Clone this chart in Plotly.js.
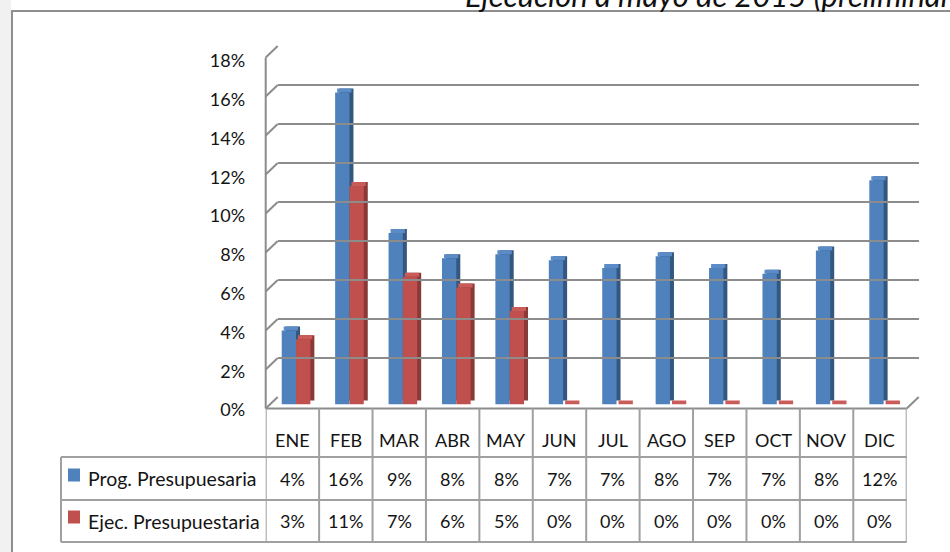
<!DOCTYPE html>
<html>
<head>
<meta charset="utf-8">
<script src="https://cdn.plot.ly/plotly-3.0.1.min.js"></script>
<style>html,body{margin:0;padding:0;background:#fff;}#chart{width:950px;height:552px;}</style>
</head>
<body>
<div id="chart"></div>
<script>
// ---------- data ----------
const meses = ['ENE','FEB','MAR','ABR','MAY','JUN','JUL','AGO','SEP','OCT','NOV','DIC'];
const progValues = [3.8, 16.0, 8.8, 7.5, 7.7, 7.4, 7.0, 7.6, 7.0, 6.7, 7.9, 11.5];
const ejecValues = [3.35, 11.2, 6.55, 6.0, 4.8, 0, 0, 0, 0, 0, 0, 0];
const seriesNames = ['Prog. Presupuesaria', 'Ejec. Presupuestaria'];
const yTicks = [0, 2, 4, 6, 8, 10, 12, 14, 16, 18];
const yTickLabels = ['0%', '2%', '4%', '6%', '8%', '10%', '12%', '14%', '16%', '18%'];
const titleText = 'Ejecución a mayo de 2015 (preliminar)';

// ---------- styling / geometry helpers ----------
const W = 950, H = 552;
const px = x => x / W;
const py = y => 1 - y / H;
const FONT = 'Lato, "Open Sans", sans-serif';
const TXT = '#141414';
const colors = {
  blue: {front: '#4f81bd', top: '#5b8cc8', side: '#34577f'},
  red:  {front: '#c0504d', top: '#c95c59', side: '#8a3937'}
};
const colL = 265.7, colR = 906.7;           // front plane x extent
const unit = (colR - colL) / meses.length;   // px per category
const depthX = 12;                           // 3D depth offset (px)
const pxPerPct = 19.5;
const barBase = 404.5, frontBase = 408.5, backBase = 397;
const sideDx = 4 / unit, topDy = 4 / pxPerPct;
const barW = 0.268;
const offBlue = -0.2, offRed = 0.068;

function barSet(vals, c, off, name) {
  return [
    {type: 'bar', x: meses, y: vals, base: vals.map(() => topDy), offset: off + sideDx, width: barW,
     marker: {color: c.side}, hoverinfo: 'skip', showlegend: false},
    {type: 'bar', x: meses, y: vals.map(() => topDy), base: vals, offset: off + sideDx / 2, width: barW,
     marker: {color: c.top}, hoverinfo: 'skip', showlegend: false},
    {type: 'bar', x: meses, y: vals, offset: off, width: barW, name: name,
     marker: {color: c.front}, showlegend: false}
  ];
}

const traces = [
  ...barSet(progValues, colors.blue, offBlue, seriesNames[0]),
  ...barSet(ejecValues, colors.red, offRed, seriesNames[1]),
  {type: 'scatter', x: [meses[0]], y: [0], xaxis: 'x2', yaxis: 'y2', mode: 'markers',
   marker: {opacity: 0}, hoverinfo: 'skip', showlegend: false},
  {type: 'scatter', x: [meses[0]], y: [0], xaxis: 'x', yaxis: 'y3', mode: 'markers',
   marker: {opacity: 0}, hoverinfo: 'skip', showlegend: false}
];

// ---------- shapes ----------
const LINE = '#8c8c8c';
const TLINE = '#a0a0a0';
const shapes = [];
// left spreadsheet strip
shapes.push({type: 'rect', xref: 'paper', yref: 'paper', x0: 0, x1: px(11), y0: 0, y1: 1,
  fillcolor: '#f1f1f1', line: {width: 0}, layer: 'below'});
// outer frame
shapes.push({type: 'rect', xref: 'paper', yref: 'paper', x0: px(12), x1: px(962), y0: py(565), y1: py(11),
  fillcolor: 'rgba(0,0,0,0)', line: {color: '#8f8f8f', width: 2}});
// left wall front edge
shapes.push({type: 'line', xref: 'paper', yref: 'paper', x0: px(colL), x1: px(colL),
  y0: py(frontBase), y1: py(frontBase - yTicks[yTicks.length - 1] * pxPerPct), line: {color: LINE, width: 2}, layer: 'below'});
// left wall diagonals
yTicks.forEach(t => {
  shapes.push({type: 'line', xref: 'paper', yref: 'paper',
    x0: px(colL), y0: py(frontBase - t * pxPerPct), x1: px(colL + depthX), y1: py(backBase - t * pxPerPct),
    line: {color: LINE, width: 2}, layer: 'below'});
});
// floor front edge and right diagonal
shapes.push({type: 'line', xref: 'paper', yref: 'paper', x0: px(colL), x1: px(colR), y0: py(frontBase), y1: py(frontBase),
  line: {color: LINE, width: 2}, layer: 'below'});
shapes.push({type: 'line', xref: 'paper', yref: 'paper', x0: px(colR), x1: px(colR + depthX), y0: py(frontBase), y1: py(backBase),
  line: {color: LINE, width: 2}, layer: 'below'});
// data table lines
const tTop = 457, tMid = 500, tBot = 542, tLeft = 61;
[tTop, tMid, tBot].forEach(y => shapes.push({type: 'line', xref: 'paper', yref: 'paper',
  x0: px(tLeft), x1: px(colR), y0: py(y), y1: py(y), line: {color: TLINE, width: 2}}));
shapes.push({type: 'line', xref: 'paper', yref: 'paper', x0: px(tLeft), x1: px(tLeft), y0: py(tTop), y1: py(tBot),
  line: {color: TLINE, width: 2}});
for (let i = 0; i <= meses.length; i++) {
  shapes.push({type: 'line', xref: 'x', yref: 'paper', x0: i - 0.5, x1: i - 0.5, y0: py(frontBase), y1: py(tBot),
    line: {color: TLINE, width: 2}});
}
// legend keys
[[colors.blue.front, 475], [colors.red.front, 517]].forEach(([c, y]) => shapes.push({type: 'rect', xref: 'paper', yref: 'paper',
  x0: px(68), x1: px(80), y0: py(y + 6.5), y1: py(y - 6.5), fillcolor: c, line: {width: 0}}));

// ---------- annotations ----------
const annotations = [];
const tf = {family: FONT, size: 18, color: TXT};
const lf = {family: FONT, size: 19.5, color: TXT};
meses.forEach((m, i) => {
  annotations.push({xref: 'x', yref: 'paper', x: m, y: py(440), text: m, showarrow: false, font: tf, xanchor: 'center', yanchor: 'middle'});
  annotations.push({xref: 'x', yref: 'paper', x: m, y: py(478.5), text: Math.round(progValues[i]) + '%', showarrow: false, font: tf, xanchor: 'center', yanchor: 'middle'});
  annotations.push({xref: 'x', yref: 'paper', x: m, y: py(521), text: Math.round(ejecValues[i]) + '%', showarrow: false, font: tf, xanchor: 'center', yanchor: 'middle'});
});
annotations.push({xref: 'paper', yref: 'paper', x: px(86), y: py(478.5), text: seriesNames[0], showarrow: false, font: lf, xanchor: 'left', yanchor: 'middle'});
annotations.push({xref: 'paper', yref: 'paper', x: px(86), y: py(521), text: seriesNames[1], showarrow: false, font: lf, xanchor: 'left', yanchor: 'middle'});
annotations.push({xref: 'paper', yref: 'paper', x: px(463), y: py(16), text: titleText, showarrow: false,
  font: {family: FONT, size: 31, color: '#111', style: 'italic'}, xanchor: 'left', yanchor: 'bottom'});

const hidden = {showgrid: false, zeroline: false, showline: false, showticklabels: false, ticks: '', fixedrange: true};
const layout = {
  width: W, height: H,
  margin: {l: 0, r: 0, t: 0, b: 0},
  paper_bgcolor: '#ffffff', plot_bgcolor: 'rgba(0,0,0,0)',
  barmode: 'overlay', showlegend: false,
  xaxis: Object.assign({}, hidden, {domain: [px(colL), px(colR)], range: [-0.5, 11.5], type: 'category', anchor: 'y'}),
  yaxis: Object.assign({}, hidden, {domain: [py(barBase), py(barBase - 18 * pxPerPct)], range: [0, 18], anchor: 'x'}),
  xaxis2: Object.assign({}, hidden, {domain: [px(colL + depthX), px(colR + depthX)], range: [-0.5, 11.5], type: 'category', anchor: 'y2'}),
  yaxis2: Object.assign({}, hidden, {domain: [py(backBase), py(backBase - 18 * pxPerPct)], range: [0, 18], anchor: 'x2',
    showgrid: true, gridcolor: LINE, gridwidth: 2, tickvals: yTicks}),
  yaxis3: Object.assign({}, hidden, {domain: [py(410), py(61)], range: [0, 18], anchor: 'x',
    showticklabels: true, tickvals: yTicks, ticktext: yTickLabels, ticks: 'outside', ticklen: 16,
    tickcolor: 'rgba(0,0,0,0)', tickfont: {family: FONT, size: 18, color: TXT}}),
  shapes: shapes,
  annotations: annotations
};

Plotly.newPlot('chart', traces, layout, {staticPlot: true, displayModeBar: false});
</script>
</body>
</html>
